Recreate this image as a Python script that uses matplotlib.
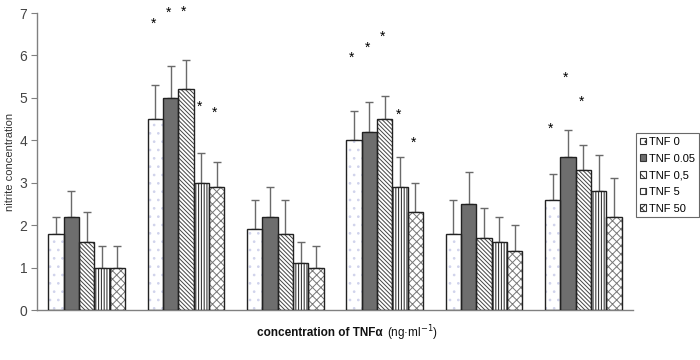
import matplotlib
matplotlib.use("Agg")
import matplotlib.pyplot as plt
import numpy as np
from matplotlib.patches import Patch

plt.rcParams['font.family'] = ['Liberation Sans', 'DejaVu Sans']

series = ["TNF 0", "TNF 0.05", "TNF 0,5", "TNF 5", "TNF 50"]
n_groups = 6
# values[series][group]
values = [
    [1.8, 4.5, 1.9, 4.0, 1.8, 2.6],
    [2.2, 5.0, 2.2, 4.2, 2.5, 3.6],
    [1.6, 5.2, 1.8, 4.5, 1.7, 3.3],
    [1.0, 3.0, 1.1, 2.9, 1.6, 2.8],
    [1.0, 2.9, 1.0, 2.3, 1.4, 2.2],
]
errors = [
    [0.4, 0.8, 0.7, 0.7, 0.8, 0.6],
    [0.6, 0.75, 0.7, 0.7, 0.75, 0.65],
    [0.7, 0.7, 0.8, 0.55, 0.7, 0.6],
    [0.5, 0.7, 0.5, 0.7, 0.6, 0.85],
    [0.5, 0.6, 0.5, 0.7, 0.6, 0.9],
]
# significance stars: (group, series, y)
stars = [
    (1, 0, 6.75), (1, 1, 7.0), (1, 2, 7.02), (1, 3, 4.78), (1, 4, 4.65),
    (3, 0, 5.95), (3, 1, 6.17), (3, 2, 6.45), (3, 3, 4.6), (3, 4, 3.95),
    (5, 0, 4.28), (5, 1, 5.47), (5, 2, 4.9),
]
yticks = [0, 1, 2, 3, 4, 5, 6, 7]

fills = ["white", "#6e6e6e", "white", "white", "white"]
hatches = ["..", None, "\\\\\\\\\\\\\\\\", "||||||", "xxxx"]
hatch_cols = ["#d0d3ec", None, "#444444", "#222222", "#777777"]

fig = plt.figure(figsize=(7, 3.6), dpi=100)
ax = fig.add_axes([37/700, 1-310/360, (633-37)/700, (310-13)/360])

w = 0.155
x = np.arange(n_groups)
plt.rcParams['hatch.linewidth'] = 0.7
for i in range(5):
    pos = x + (i - 2) * w
    if hatches[i]:
        ax.bar(pos, values[i], w, color=fills[i], edgecolor=hatch_cols[i],
               hatch=hatches[i], linewidth=0, zorder=2)
    else:
        ax.bar(pos, values[i], w, color=fills[i], linewidth=0, zorder=2)
    ax.bar(pos, values[i], w, fill=False, edgecolor="#222222", linewidth=1.0, zorder=3)
    ax.errorbar(pos, values[i], yerr=[np.zeros(n_groups), errors[i]], fmt="none",
                ecolor="#6a6a6a", elinewidth=1.0, capsize=3, capthick=1.0, zorder=1)

for g, s, yv in stars:
    ax.text(x[g] + (s - 2) * w - 0.02, yv, "*", ha="center", va="center", fontsize=10, color="black")

ax.set_xlim(-0.5, n_groups - 0.5)
ax.set_ylim(0, 7)
ax.set_yticks(yticks)
ax.set_xticks([])
for sp in ["top", "right"]:
    ax.spines[sp].set_visible(False)
for sp in ["left", "bottom"]:
    ax.spines[sp].set_color("#808080")
    ax.spines[sp].set_linewidth(1.0)
ax.tick_params(axis="y", colors="#808080", labelcolor="#444444", labelsize=10, length=4, direction="out", pad=3)
ax.set_ylabel("nitrite concentration", fontsize=8, color="#333333", labelpad=3)

fig.text(257/700, 1-333/360, "concentration of TNFα", fontsize=8.5, fontweight="bold", ha="left", va="center", color="#111111")
fig.text(387/700, 1-333/360, "(ng·ml$^{-1}$)", fontsize=8.5, ha="left", va="center", color="#111111")

handles = []
for i in range(5):
    if hatches[i]:
        handles.append(Patch(facecolor=fills[i], edgecolor="#333333", hatch=hatches[i][:2], linewidth=0.8))
    else:
        handles.append(Patch(facecolor=fills[i], edgecolor="#333333", linewidth=0.8))
leg = fig.legend(handles, series, loc="upper right", bbox_to_anchor=(699/700, 1-133/360),
                 fontsize=8, frameon=True, fancybox=False, handlelength=0.55, handleheight=0.55,
                 handletextpad=0.25, labelspacing=0.6, borderpad=0.35, borderaxespad=0)
leg.get_frame().set_edgecolor("#444444")
leg.get_frame().set_linewidth(0.8)

fig.savefig("out.png", dpi=100)
